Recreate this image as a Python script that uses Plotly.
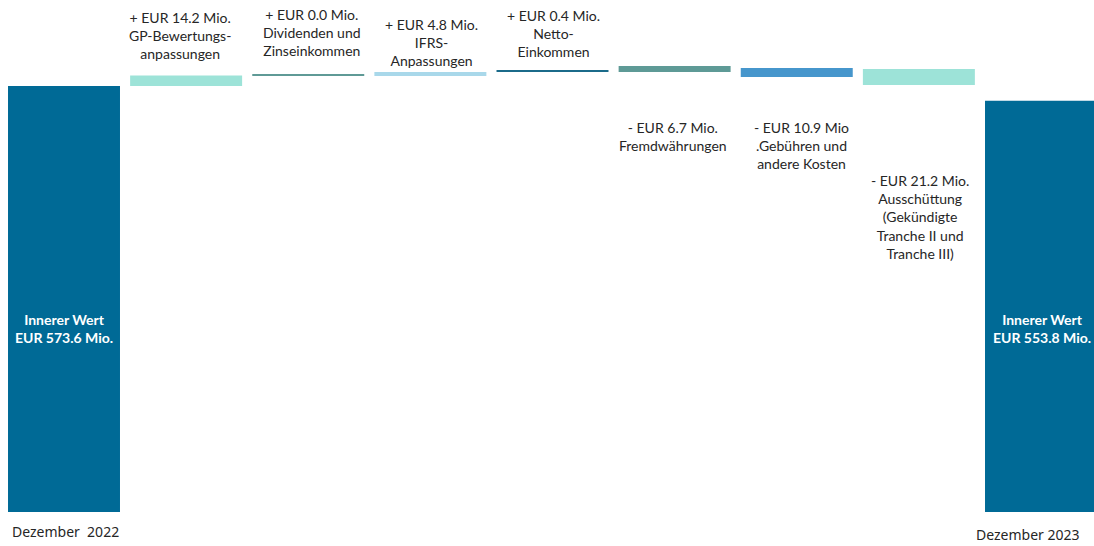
import plotly.graph_objects as go

# ---- data ----
categories = ["Dezember 2022", "GP-Bewertungsanpassungen", "Dividenden und Zinseinkommen",
              "IFRS-Anpassungen", "Netto-Einkommen", "Fremdwährungen",
              "Gebühren und andere Kosten", "Ausschüttung", "Dezember 2023"]
bar_low = [0, 573.6, 587.8, 587.2, 592.9, 592.4, 585.7, 575.0, 0]
bar_high = [573.6, 587.8, 589.1, 592.6, 594.2, 600.5, 597.8, 596.5, 553.8]
bar_colors = ["#006a96", "#9de3d8", "#5f9a96", "#a9d8ea", "#1b6b8a",
              "#5e9a96", "#4696cc", "#9de3d8", "#006a96"]
labels = [
    "<b>Innerer Wert<br>EUR 573.6 Mio.</b>",
    "+ EUR 14.2 Mio.<br>GP-Bewertungs-<br>anpassungen",
    "+ EUR 0.0 Mio.<br>Dividenden und<br>Zinseinkommen",
    "+ EUR 4.8 Mio.<br>IFRS-<br>Anpassungen",
    "+ EUR 0.4 Mio.<br>Netto-<br>Einkommen",
    "- EUR 6.7 Mio.<br>Fremdwährungen",
    "- EUR 10.9 Mio<br>.Gebühren und<br>andere Kosten",
    "- EUR 21.2 Mio.<br>Ausschüttung<br>(Gekündigte<br>Tranche II und<br>Tranche III)",
    "<b>Innerer Wert<br>EUR 553.8 Mio.</b>",
]
axis_labels = ["Dezember  2022", "Dezember 2023"]

# ---- layout helpers (pixel placement of labels) ----
label_py = [328, 35, 32, 42, 33, 136, 145, 217, 328]
label_dx = [0, -6, 4, 1, 1, -2, 5, 1, 1]
PLOT_H = 512
STEP = 122.125
r0 = -64 / STEP
r1 = r0 + 1094 / STEP

idx = list(range(len(categories)))
fig = go.Figure()
fig.add_trace(go.Bar(
    x=idx,
    y=[h - l for l, h in zip(bar_low, bar_high)],
    base=bar_low,
    marker=dict(color=bar_colors, line=dict(width=0)),
    width=0.917,
    hoverinfo="skip",
))

def py2paper(py):
    return 1 - py / PLOT_H

for i, (t, py, dx) in enumerate(zip(labels, label_py, label_dx)):
    white = i in (0, len(labels) - 1)
    fig.add_annotation(
        x=i, xref="x", y=py2paper(py), yref="paper",
        text=t, showarrow=False, xshift=dx,
        xanchor="center", yanchor="middle", align="center",
        font=dict(family="Lato", size=14, color="white" if white else "#262626"),
    )

fig.add_annotation(x=0, xref="x", y=py2paper(531), yref="paper", text=axis_labels[0],
                   showarrow=False, xshift=1, yanchor="middle",
                   font=dict(family="Noto Sans", size=14, color="#262626"))
fig.add_annotation(x=8, xref="x", y=py2paper(534), yref="paper", text=axis_labels[1],
                   showarrow=False, xshift=-13, yanchor="middle",
                   font=dict(family="Noto Sans", size=14, color="#262626"))

fig.update_layout(
    width=1094, height=546,
    margin=dict(l=0, r=0, t=0, b=546 - PLOT_H, pad=0),
    paper_bgcolor="white", plot_bgcolor="white",
    showlegend=False,
    hovermode=False,
    xaxis=dict(range=[r0, r1], showticklabels=False, showgrid=False,
               zeroline=False, showline=False, ticks=""),
    yaxis=dict(range=[0, PLOT_H / 0.7427], visible=False, showgrid=False, zeroline=False),
)

fig.write_html(
    "out.html",
    config={"displayModeBar": False},
    post_script="document.body.style.margin='0px';document.body.style.overflow='hidden';",
)
